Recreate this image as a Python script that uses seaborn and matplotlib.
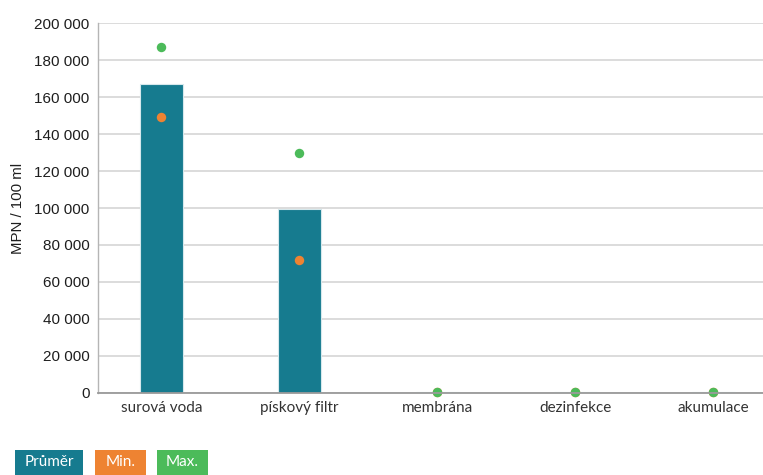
import matplotlib
matplotlib.use("Agg")
import matplotlib.pyplot as plt
from matplotlib.patches import Rectangle
from matplotlib.ticker import FuncFormatter, MultipleLocator
import pandas as pd
import seaborn as sns

# Koliformní bakterie po jednotlivých stupních úpravy vody
stages = ["surová voda", "pískový filtr", "membrána", "dezinfekce", "akumulace"]
mean_vals = [167000, 99500, 300, 300, 300]
min_vals = [149500, 72000, 200, 200, 200]
max_vals = [187000, 130000, 600, 600, 600]
y_ticks = list(range(0, 200001, 20000))

series_labels = ["Průměr", "Min.", "Max."]
series_colors = ["#167b8f", "#ee8332", "#4cbb5a"]

df = pd.DataFrame({"stupeň": stages, "průměr": mean_vals,
                   "min": min_vals, "max": max_vals})

sns.set_theme(style="white")
plt.rcParams["font.family"] = ["Liberation Sans", "DejaVu Sans"]

W, H = 763, 475
fig = plt.figure(figsize=(W / 100, H / 100), dpi=100)
ax_left, ax_bottom, ax_top = 98, 392.7, 23.3
ax = fig.add_axes([ax_left / W, (H - ax_bottom) / H, (W - ax_left) / W,
                   (ax_bottom - ax_top) / H])

sns.barplot(data=df, x="stupeň", y="průměr", order=stages, color=series_colors[0],
            saturation=1, width=0.307, edgecolor="#d6e8ec", linewidth=0.8,
            ax=ax, zorder=2)
sns.stripplot(data=df, x="stupeň", y="min", order=stages, color=series_colors[1],
              jitter=False, size=6.8, linewidth=0, ax=ax, zorder=3)
sns.stripplot(data=df, x="stupeň", y="max", order=stages, color=series_colors[2],
              jitter=False, size=6.8, linewidth=0, ax=ax, zorder=4)
for coll in ax.collections:
    coll.set_clip_on(False)

ax.set_xlim(-0.46, 4.36)
ax.set_ylim(0, 200000)
ax.set_yticks(y_ticks)
ax.yaxis.set_major_formatter(
    FuncFormatter(lambda v, _: f"{int(v):,}".replace(",", " ")))
ax.grid(axis="y", color="#d9d9d9", linewidth=1.3, zorder=0)
ax.set_axisbelow(True)

for side in ("top", "right"):
    ax.spines[side].set_visible(False)
ax.spines["left"].set_color("#b5b5b5")
ax.spines["left"].set_linewidth(1.0)
ax.spines["bottom"].set_color("#9a9a9a")
ax.spines["bottom"].set_linewidth(1.3)
ax.spines["bottom"].set_zorder(5)

ax.tick_params(axis="both", length=0)
ax.tick_params(axis="y", labelsize=11, labelcolor="#1e1e1e", pad=6)
ax.tick_params(axis="x", labelsize=11, labelcolor="#333333", pad=6)
for lbl in ax.get_xticklabels():
    lbl.set_family(["Lato", "DejaVu Sans"])

ax.set_xlabel("")
ax.set_ylabel("MPN / 100 ml", fontsize=10.8, color="#1e1e1e", labelpad=7)

# Legenda jako barevné štítky pod grafem
boxes = [(15, 83), (95, 146), (157, 208)]
for (x0, x1), label, color in zip(boxes, series_labels, series_colors):
    fig.patches.append(Rectangle((x0 / W, 0), (x1 - x0) / W, 25 / H,
                                 transform=fig.transFigure, facecolor=color,
                                 edgecolor="none"))
    fig.text((x0 + x1) / 2 / W, 12.5 / H, label, color="white", fontsize=11,
             ha="center", va="center", family=["Lato", "DejaVu Sans"])

fig.savefig("out.png", dpi=100)
